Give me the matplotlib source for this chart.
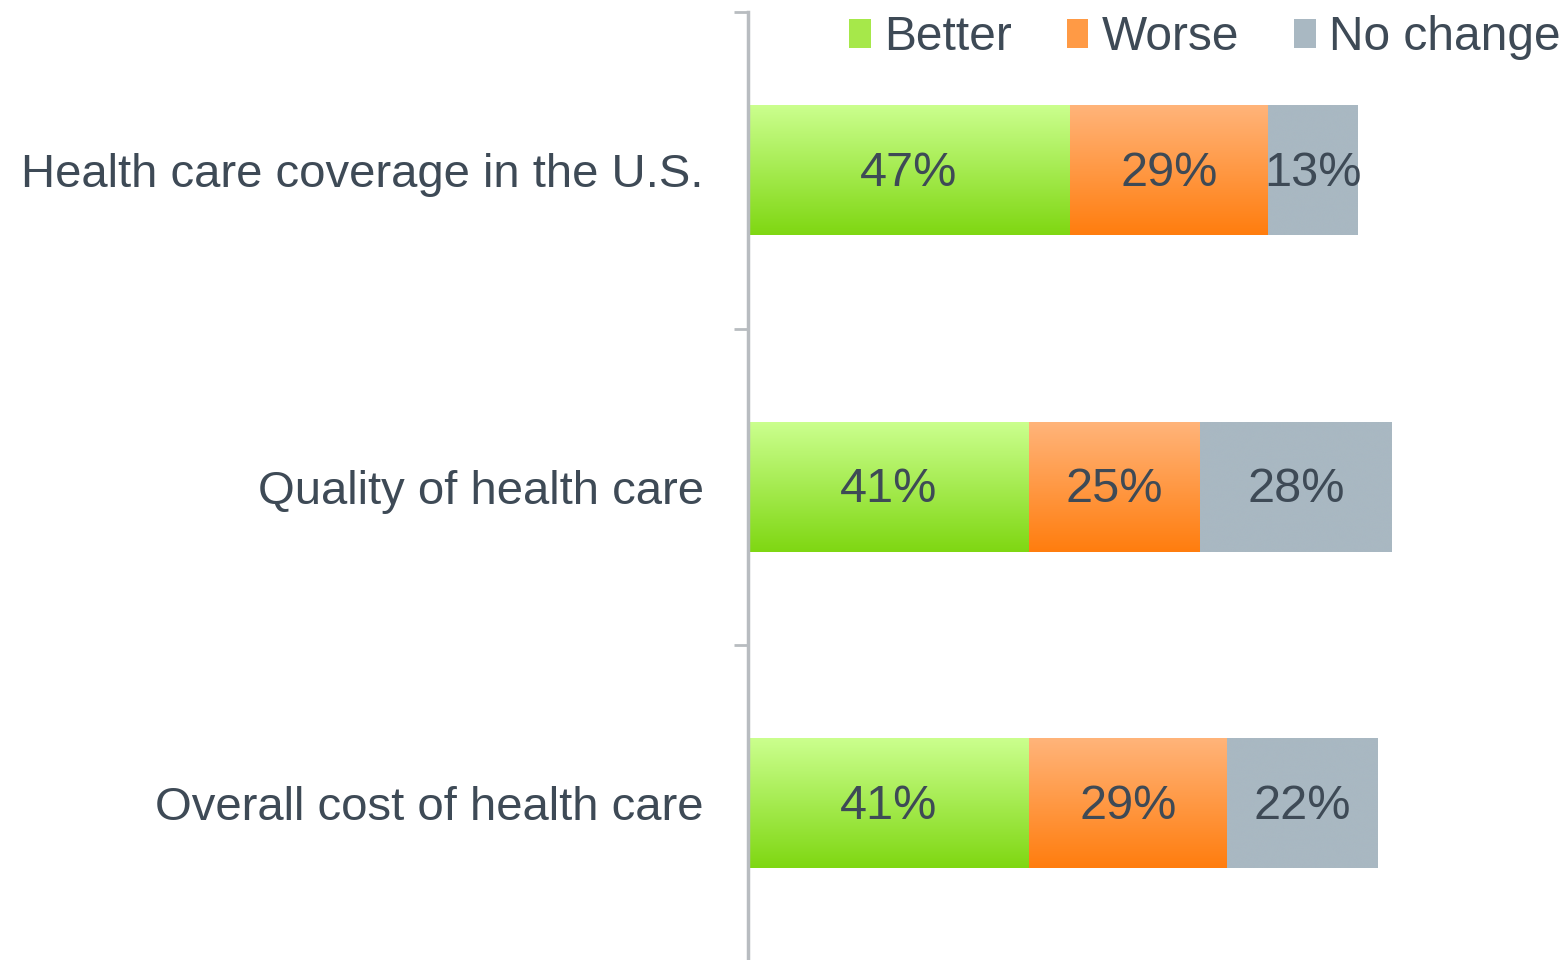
import matplotlib
matplotlib.use("Agg")
import matplotlib.pyplot as plt
import numpy as np
from matplotlib.patches import Patch
from matplotlib.colors import LinearSegmentedColormap

categories = ["Health care coverage in the U.S.", "Quality of health care", "Overall cost of health care"]
better = [47, 41, 41]
worse = [29, 25, 29]
no_change = [13, 28, 22]
series_names = ["Better", "Worse", "No change"]

plt.rcParams['font.family'] = ['Liberation Sans', 'DejaVu Sans']
text_color = "#3e4a56"

fig = plt.figure(figsize=(15.65, 9.6), dpi=100)
ax = fig.add_axes([748 / 1565, -1.5 / 960, 1 - 748 / 1565, 949.5 / 960])

y = np.arange(len(categories))
h = 0.41
grad_specs = [
    ("#cbff8e", "#7fd712"),
    ("#ffb47a", "#ff7d0e"),
    ("#a9b8c2", "#a9b8c2"),
]
left = np.zeros(len(categories))
for vals, (c_top, c_bot) in zip([better, worse, no_change], grad_specs):
    bars = ax.barh(y, vals, left=left, height=h, color="none", edgecolor="none")
    cmap = LinearSegmentedColormap.from_list("g", [c_top, c_bot])
    grad = np.linspace(0, 1, 256).reshape(-1, 1)
    for b, v in zip(bars, vals):
        x0, y0 = b.get_x(), b.get_y()
        w, hh = b.get_width(), b.get_height()
        im = ax.imshow(grad, cmap=cmap, aspect="auto",
                       extent=[x0, x0 + w, y0 + hh, y0], zorder=2, interpolation="bicubic")
        im.set_clip_path(b)
        ax.text(x0 + w / 2, y0 + hh / 2 + 0.01, f"{v}%", ha="center", va="center",
                fontsize=35, color=text_color, zorder=3)
    left = left + np.array(vals)

ax.set_xlim(0, 119.3)
ax.set_ylim(2.5, -0.5)
ax.set_yticks(y)
ax.set_yticklabels(categories, fontsize=34, color=text_color)
ax.set_yticks([-0.5, 0.5, 1.5, 2.5], minor=True)
ax.tick_params(axis="y", which="major", length=0, pad=32)
ax.tick_params(axis="y", which="minor", length=10, width=2, color="#b8bcc0", direction="out")
ax.set_xticks([])
for s in ["top", "right", "bottom"]:
    ax.spines[s].set_visible(False)
ax.spines["left"].set_color("#b8bcc0")
ax.spines["left"].set_linewidth(2.5)

handles = [Patch(facecolor=c, edgecolor="none") for c in ["#a6e84a", "#ff9a45", "#a9b8c2"]]
leg = fig.legend(handles, series_names, loc="center right",
                 bbox_to_anchor=(1585 / 1565, 1 - 38 / 960), borderpad=0,
                 ncol=3, frameon=False, fontsize=34.5, handlelength=0.45, handleheight=0.56,
                 handletextpad=0.28, columnspacing=1.15, labelcolor=text_color)

fig.savefig("out.png", dpi=100)
